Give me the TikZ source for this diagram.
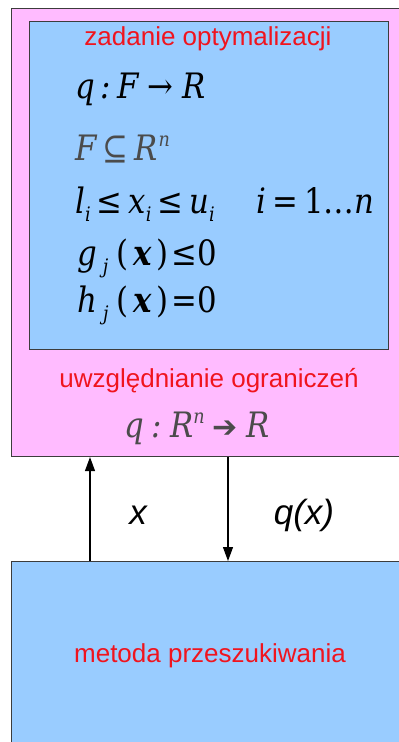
\documentclass[tikz,border=0pt]{standalone}
\usepackage{fontspec}
\setmainfont{DejaVu Serif}
\newfontfamily\mfont[FakeStretch=0.88]{DejaVu Serif}
\newfontfamily\lsans{Liberation Sans}
\newfontfamily\djv{DejaVu Sans}
\usetikzlibrary{arrows.meta}
\definecolor{pinkbg}{RGB}{255,187,255}
\definecolor{bluebg}{RGB}{153,204,255}
\definecolor{redtxt}{RGB}{240,20,30}
\definecolor{bordc}{RGB}{60,60,60}
\definecolor{greytxt}{RGB}{75,75,75}
\newcommand{\sbs}[1]{\raisebox{-8pt}{\fontsize{20}{20}\selectfont #1}}
\newcommand{\sps}[1]{\raisebox{14pt}{\fontsize{20}{20}\selectfont #1}}
\newcommand{\gp}{\hspace{6pt}}
\tikzset{
  boxpink/.style={draw=bordc, line width=1.1pt, fill=pinkbg, anchor=north west, inner sep=0pt},
  boxblue/.style={draw=bordc, line width=1.1pt, fill=bluebg, anchor=north west, inner sep=0pt},
  redlab/.style={text=redtxt, font=\lsans\fontsize{26}{26}\selectfont, inner sep=0pt},
  mathlab/.style={anchor=base west, inner sep=0pt, font=\mfont\itshape\fontsize{35}{35}\selectfont},
  arrowlab/.style={inner sep=0pt, font=\lsans\itshape\fontsize{35}{35}\selectfont},
  conn/.style={line width=1.2pt, -{Triangle[length=14pt,width=10pt]}}
}
\begin{document}
\begin{tikzpicture}[x=1pt,y=-1pt]
\useasboundingbox (0,0) rectangle (399,742);
\clip (0,0) rectangle (399,742);
\node[boxpink, minimum width=419pt, minimum height=448pt] (outer) at (11,8) {};
\node[boxblue, minimum width=359pt, minimum height=328pt] (inner) at (29,21) {};
\node[boxblue, minimum width=419pt, minimum height=200pt] (lower) at (11,561) {};
% texts
\node[redlab] (t1) at (208,39) {zadanie optymalizacji};
\node[mathlab] (m1) at (75,98) {q\hspace{6pt}:\hspace{6pt}F\hspace{9pt}{\upshape→}\hspace{9pt}R};
\node[mathlab, text=greytxt] (m2) at (75,160) {F\gp{\upshape⊆}\gp R\hspace{1pt}\sps{n}};
\node[mathlab] (m3) at (75,213) {l\sbs{i}\gp{\upshape≤}\gp x\sbs{i}\gp{\upshape≤}\gp u\sbs{i}\hspace{42pt}i\gp{\upshape=}\gp{\upshape 1…}n};
\node[mathlab] (m4) at (77,265) {g\hspace{6pt}\sbs{j}\hspace{8pt}{\upshape(}\hspace{5pt}\textbf{x}\hspace{5pt}{\upshape)}\hspace{3pt}{\upshape≤0}};
\node[mathlab] (m5) at (77,312) {h\hspace{6pt}\sbs{j}\hspace{8pt}{\upshape(}\hspace{5pt}\textbf{x}\hspace{5pt}{\upshape)}\hspace{3pt}{\upshape=0}};
\node[redlab] (t2) at (209,381) {uwzględnianie ograniczeń};
\node[mathlab, text=greytxt] (m6) at (124,437) {q\hspace{8pt}:\hspace{8pt}R\sps{n}\hspace{8pt}{\upshape\djv\fontsize{30}{30}\selectfont ➔}\hspace{9pt}R};
\node[redlab] (t3) at (210,656) {metoda przeszukiwania};
\node[arrowlab] (lx) at (138,515) {x};
\node[arrowlab] (lq) at (304,515) {q(x)};
% connectors
\coordinate (upx) at (90,0);
\coordinate (dnx) at (228,0);
\draw[conn] (lower.north -| upx) -- (outer.south -| upx);
\draw[conn] (outer.south -| dnx) -- (lower.north -| dnx);
\end{tikzpicture}
\end{document}
